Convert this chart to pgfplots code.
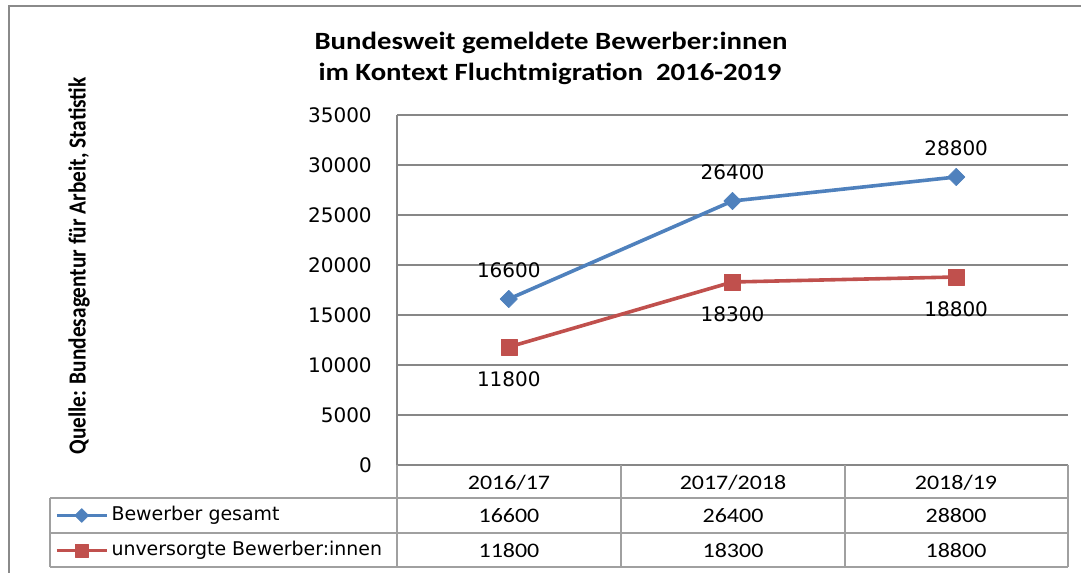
\documentclass[border=0pt]{standalone}
\usepackage{fontspec}
\setmainfont{Carlito}
\newfontfamily\dv{DejaVu Sans}
\newfontfamily\cst[FakeStretch=1.16]{Carlito}
\usepackage{graphicx}
\usepackage{pgfplots}
\pgfplotsset{compat=1.18}
\definecolor{sblue}{HTML}{4F81BD}
\definecolor{sred}{HTML}{C0504D}
\definecolor{gridc}{HTML}{878787}
\definecolor{tabc}{HTML}{A0A0A0}
\definecolor{framec}{HTML}{8A8A8A}
\begin{document}
\begin{tikzpicture}
\useasboundingbox (0,0) rectangle (810.75pt,429.75pt);
\begin{axis}[at={(297.75pt,81pt)}, anchor=south west, scale only axis,
  width=503.25pt, height=262.5pt,
  xmin=0.5, xmax=3.5, ymin=0, ymax=35000,
  xtick=\empty, ytick={0,5000,...,35000}, scaled y ticks=false,
  ymajorgrids, grid style={gridc, line width=0.9pt},
  axis x line*=bottom, axis y line*=left,
  axis line style={gridc, line width=0.9pt, -},
  major tick length=0pt,
  yticklabel style={font=\dv\fontsize{15pt}{18pt}\selectfont, inner sep=0pt, xshift=-18.75pt, text=black},
  yticklabel={\pgfmathprintnumber[1000 sep={}, assume math mode=true]{\tick}},
  clip=false,
  legend cell align=left,
  legend style={at={(-0.5097,-0.0943)}, anchor=north west, draw=none, fill=none,
    inner sep=0pt, outer sep=0pt, row sep=0pt, column sep=0pt,
    font=\dv\fontsize{14.2pt}{16pt}\selectfont,
    nodes={inner xsep=2.2pt, inner ysep=0pt, text height=17pt, text depth=9.25pt}},
  legend image code/.code={\draw[#1, mark repeat=2, mark phase=2, /tikz/every mark/.append style={scale=0.8}] plot coordinates {(0pt,0pt)(18.75pt,0pt)(37.5pt,0pt)};},
  nodes near coords={\pgfmathprintnumber[1000 sep={}, assume math mode=true]{\pgfplotspointmeta}}]
\addplot[sblue, line width=2.7pt, line join=round, mark=diamond*, mark size=6.5pt, mark options={xscale=1.33, solid, line width=0.5pt},
  every node near coord/.append style={anchor=center, yshift=21.75pt, font=\dv\fontsize{15pt}{18pt}\selectfont, text=black}]
  coordinates {(1,16600) (2,26400) (3,28800)};
\addlegendentry{Bewerber gesamt}
\addplot[sred, line width=2.7pt, line join=round, mark=square*, mark size=6pt, mark options={solid, line width=0.5pt},
  every node near coord/.append style={anchor=center, yshift=-24pt, font=\dv\fontsize{15pt}{18pt}\selectfont, text=black}]
  coordinates {(1,11800) (2,18300) (3,18800)};
\addlegendentry{unversorgte Bewerber:innen}
\end{axis}
\begin{scope}[x=0.75pt,y=0.75pt]
\draw[framec, line width=1.9pt] (9,0) -- (9,567) -- (1081,567);
\node[anchor=base, font=\cst\bfseries\fontsize{18.6pt}{22pt}\selectfont] at (551,523) {Bundesweit gemeldete Bewerber:innen};
\node[anchor=base, font=\cst\bfseries\fontsize{18.6pt}{22pt}\selectfont] at (550,492) {im Kontext Fluchtmigration\ \ 2016-2019};
\node[rotate=90, font=\bfseries\fontsize{16pt}{19pt}\selectfont] at (79,307) {\scalebox{1}[1.15]{Quelle: Bundesagentur für Arbeit, Statistik}};
\draw[tabc, line width=1.2pt] (50,75) -- (1068,75) (50,40) -- (1068,40) (50,6) -- (1068,6)
  (50,75) -- (50,6) (397,108) -- (397,6) (621,108) -- (621,6) (845,108) -- (845,6) (1068,108) -- (1068,6);
\begin{scope}[every node/.style={anchor=base, font=\cst\fontsize{15.5pt}{18pt}\selectfont}]
\node at (509,83) {2016/17};
\node at (733,83) {2017/2018};
\node at (956,83) {2018/19};
\node at (509,50) {16600};
\node at (733,50) {26400};
\node at (956,50) {28800};
\node at (509,15) {11800};
\node at (733,15) {18300};
\node at (956,15) {18800};
\end{scope}
\end{scope}
\end{tikzpicture}
\end{document}
